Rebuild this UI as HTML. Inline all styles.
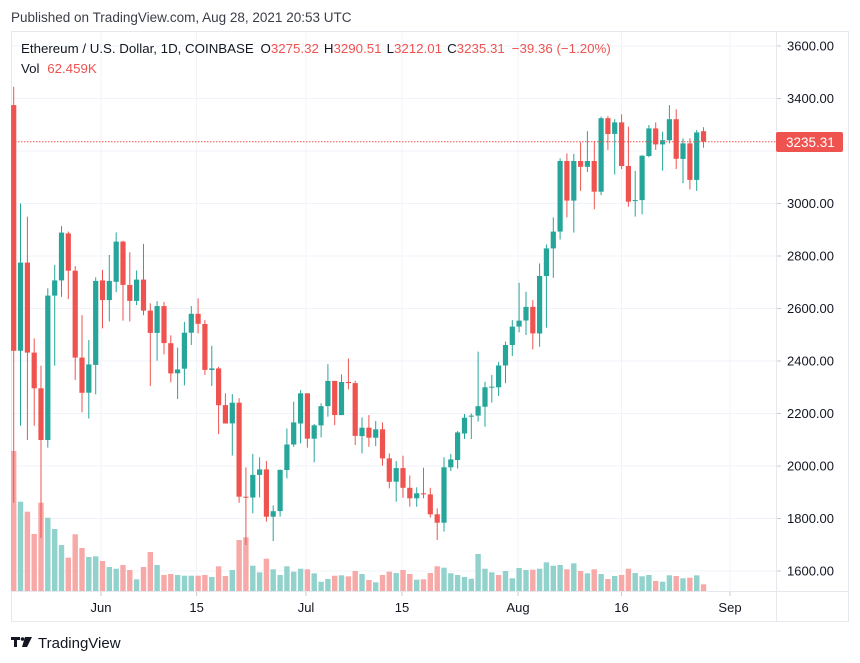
<!DOCTYPE html>
<html><head><meta charset="utf-8"><style>
html,body{margin:0;padding:0;background:#fff;width:860px;height:663px;overflow:hidden}
svg text{font-family:"Liberation Sans",sans-serif}
</style></head><body>
<svg id="c" width="860" height="663" viewBox="0 0 860 663" xmlns="http://www.w3.org/2000/svg">
<text x="11" y="22" font-size="13.5" fill="#3b3e47">Published on TradingView.com, Aug 28, 2021 20:53 UTC</text>
<rect x="11.5" y="31.5" width="837" height="590" fill="#fff" stroke="#e6e8ee"/>
<g id="grid"></g>
<g id="vol"></g>
<g id="cnd"></g>
<line x1="12" x2="776" y1="141.7" y2="141.7" stroke="#ef5350" stroke-width="1" stroke-dasharray="1.5,1.5"/>
<line x1="776.5" x2="776.5" y1="32" y2="621" stroke="#e6e8ee"/>
<line x1="12" x2="848" y1="591.5" y2="591.5" stroke="#e6e8ee"/>
<g id="ax" font-size="13" fill="#131722"></g>
<rect x="776" y="132" width="67" height="20" rx="2" fill="#ef5350"/>
<text x="786" y="147" font-size="13.5" fill="#fff">3235.31</text>
<text x="21" y="53" font-size="13.3" fill="#131722">Ethereum / U.S. Dollar, 1D, COINBASE <tspan dx="3">O</tspan><tspan fill="#ef5350">3275.32</tspan><tspan dx="5">H</tspan><tspan fill="#ef5350">3290.51</tspan><tspan dx="5">L</tspan><tspan fill="#ef5350">3212.01</tspan><tspan dx="5">C</tspan><tspan fill="#ef5350">3235.31</tspan><tspan dx="7" fill="#ef5350">−39.36 (−1.20%)</tspan></text>
<text x="21" y="73" font-size="13.3" fill="#131722">Vol <tspan dx="4" fill="#ef5350">62.459K</tspan></text>
<g fill="#131722"><rect x="11" y="637" width="9" height="3"/><rect x="14" y="637" width="3" height="10"/><circle cx="22.5" cy="639" r="1.8"/><polygon points="25,637 32,637 27,647 22,647"/></g>
<text x="38" y="648" font-size="15" fill="#131722">TradingView</text>
</svg>
<script>
const P=p=>46+(3600-p)*0.2625;
const X=i=>13.7+i*6.83;
const d=[[3375,3445,1860,2439],[2439,3000,2153,2775],[2775,2950,2099,2432],[2432,2486,2153,2296],[2296,2382,1726,2099],[2099,2677,2070,2649],[2649,2766,2382,2707],[2707,2914,2645,2889],[2886,2893,2636,2744],[2744,2762,2328,2413],[2413,2575,2204,2279],[2279,2480,2181,2387],[2385,2719,2273,2705],[2707,2747,2524,2632],[2632,2804,2551,2705],[2702,2890,2662,2855],[2855,2858,2554,2690],[2690,2814,2551,2629],[2629,2745,2613,2710],[2710,2846,2574,2592],[2592,2620,2305,2507],[2507,2628,2401,2609],[2609,2625,2425,2468],[2468,2498,2319,2353],[2353,2451,2255,2368],[2371,2549,2307,2508],[2508,2609,2461,2580],[2580,2639,2505,2542],
[2541,2556,2347,2366],[2366,2458,2305,2372],[2372,2378,2122,2232],[2232,2277,2162,2162],[2162,2274,2040,2241],[2241,2258,1860,1883],[1883,1995,1699,1880],[1880,2046,1820,1966],[1966,2033,1880,1987],[1987,2019,1788,1807],[1807,1850,1714,1828],[1828,1987,1807,1985],[1985,2143,1953,2082],[2082,2245,2073,2166],[2162,2289,2086,2277],[2277,2277,2070,2104],[2104,2160,2014,2155],[2155,2239,2109,2228],[2228,2388,2188,2324],[2324,2324,2156,2194],[2194,2349,2194,2320],[2320,2410,2292,2316],[2316,2325,2080,2115],[2114,2185,2048,2146],[2146,2194,2073,2108],[2108,2171,2076,2140],[2140,2166,2001,2029],[2029,2048,1915,1940],[1940,2019,1864,1992],[1992,2039,1879,1917],[1917,1964,1845,1877],[1877,1919,1845,1896],[1896,1993,1877,1892],[1892,1917,1804,1816],[1816,1839,1718,1784],[1784,2033,1750,1995],[1995,2046,1981,2025],[2023,2133,1990,2128],
[2124,2198,2103,2184],[2188,2200,2103,2192],[2192,2436,2169,2228],[2226,2321,2150,2300],[2300,2347,2242,2302],[2300,2397,2267,2383],[2383,2474,2315,2461],[2461,2556,2419,2531],[2531,2698,2509,2554],[2554,2664,2499,2606],[2606,2632,2444,2505],[2505,2772,2454,2724],[2724,2844,2527,2829],[2829,2947,2717,2893],[2893,3172,2863,3162],[3162,3191,2947,3011],[3011,3189,2889,3162],[3162,3233,3048,3140],[3140,3276,3120,3162],[3162,3238,2978,3045],[3045,3331,3032,3325],[3325,3333,3204,3265],[3265,3321,3111,3309],[3309,3340,3131,3143],[3143,3293,2988,3007],[3011,3124,2950,3013],[3013,3184,2959,3182],[3181,3299,3176,3286],[3286,3309,3204,3225],[3225,3274,3125,3241],[3241,3375,3229,3321],[3321,3359,3131,3170],[3170,3248,3077,3229],[3229,3248,3054,3090],[3090,3280,3048,3271],[3275.32,3290.51,3212.01,3235.31]];
const v="33r185g215r282r188r233g267g315g353r283r324r351g349g363r381g386g375r390r418g381r336r375g405r402r405g407g407g407r405r411g379r408r390g300r292r377g397g356r388g405g379g395g386g388r400g425g417g407r406g409r393r402g420r427g405r395r399g390r402r419g418r399r379r383g400g405g411g416g342g386g397g405r393g415g384g390g389r386g367g377g375g388r370g393r400g388r402g417r408g405r386r399g409g405g423r425g406g408r415g413r406g433r".match(/\d+[rg]/g);
let s='';
let g='';
for(let p=1600;p<=3600;p+=200){const y=P(p).toFixed(1);g+=`<line x1="12" x2="776" y1="${y}" y2="${y}" stroke="#f0f3fa"/>`;}
const T=[["Jun",101],["15",196.6],["Jul",306],["15",402],["Aug",518],["16",621.5],["Sep",730]];
T.forEach(a=>{g+=`<line x1="${a[1]}" x2="${a[1]}" y1="32" y2="591" stroke="#f0f3fa"/>`});
document.getElementById('grid').innerHTML=g;
v.forEach((t,i)=>{const top=440+parseInt(t)/3;const c=t.slice(-1)=='g'?'#92d2cc':'#f7a9a7';s+=`<rect x="${(X(i)-2.7).toFixed(1)}" y="${top.toFixed(1)}" width="5.4" height="${(591-top).toFixed(1)}" fill="${c}"/>`});
document.getElementById('vol').innerHTML=s;s='';
d.forEach((k,i)=>{const[o,h,l,c]=k;const up=c>=o;const col=up?'#26a69a':'#ef5350';const x=X(i);const t=P(Math.max(o,c)),b=P(Math.min(o,c));
s+=`<line x1="${x.toFixed(1)}" x2="${x.toFixed(1)}" y1="${P(h).toFixed(1)}" y2="${P(l).toFixed(1)}" stroke="${col}" stroke-width="1"/>`;
s+=`<rect x="${(x-2.6).toFixed(1)}" y="${t.toFixed(1)}" width="5.2" height="${Math.max(1,b-t).toFixed(1)}" fill="${col}"/>`;});
document.getElementById('cnd').innerHTML=s;
let a='';
for(let p=1600;p<=3600;p+=200){if(p==3200)continue;const y=P(p);a+=`<line x1="777" x2="781" y1="${y}" y2="${y}" stroke="#c8cbd3"/><text x="787" y="${(y+4.5).toFixed(1)}">${p}.00</text>`;}
T.forEach(q=>{a+=`<line x1="${q[1]}" x2="${q[1]}" y1="592" y2="596" stroke="#c8cbd3"/><text x="${q[1]}" y="612" text-anchor="middle">${q[0]}</text>`});
document.getElementById('ax').innerHTML=a;
</script>
</body></html>
